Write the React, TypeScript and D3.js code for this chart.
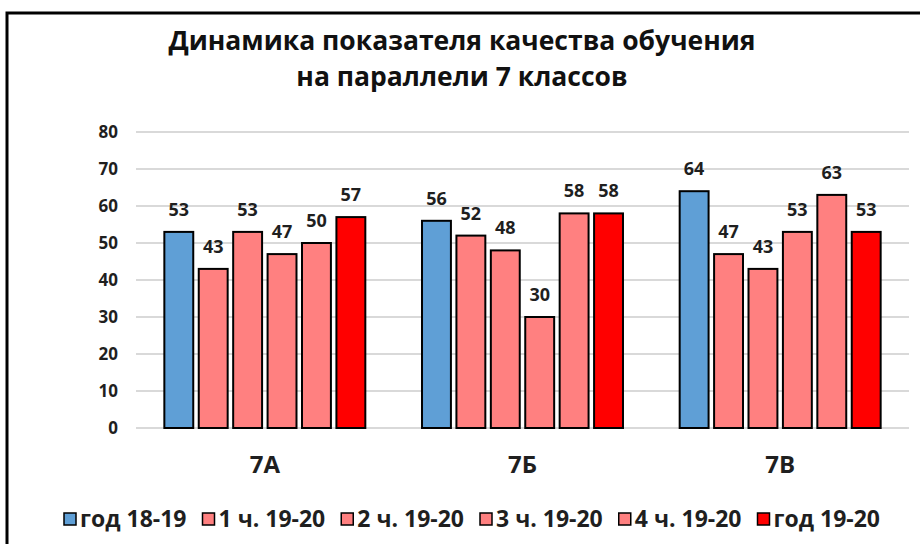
import React, { useEffect, useRef } from 'react';
import * as d3 from 'd3';

const classes = ['7А', '7Б', '7В'];
const seriesNames = ['год 18-19', '1 ч. 19-20', '2 ч. 19-20', '3 ч. 19-20', '4 ч. 19-20', 'год 19-20'];
const seriesColors = ['#5f9fd6', '#ff8080', '#ff8080', '#ff8080', '#ff8080', '#ff0000'];
// values per class, in series order
const values7A = [53, 43, 53, 47, 50, 57];
const values7B = [56, 52, 48, 30, 58, 58];
const values7V = [64, 47, 43, 53, 63, 53];
const yTicks = [0, 10, 20, 30, 40, 50, 60, 70, 80];
const titleLines = ['Динамика показателя качества обучения', 'на параллели 7 классов'];

const FONT = '"Open Sans", "DejaVu Sans", sans-serif';
const TEXT = '#1f1f1f';

const App = () => {
  const legendRef = useRef<SVGGElement>(null);

  const width = 920;
  const height = 544;
  const plot = { left: 136, right: 909, top: 132, bottom: 428 };

  const rows = [values7A, values7B, values7V];

  const x0 = d3.scaleBand<string>()
    .domain(classes)
    .range([plot.left, plot.right])
    .paddingInner(0.22)
    .paddingOuter(0.11);

  const x1 = d3.scaleBand<string>()
    .domain(seriesNames)
    .range([0, x0.bandwidth()])
    .paddingInner(0.16)
    .paddingOuter(0);

  const y = d3.scaleLinear().domain([0, 80]).range([plot.bottom, plot.top]);

  useEffect(() => {
    // lay out the legend centred, using measured text widths
    const g = d3.select(legendRef.current);
    g.selectAll('*').remove();
    const box = 12;
    const boxGap = 4;
    const itemGap = 16;
    const items = g.selectAll('g.item')
      .data(seriesNames)
      .enter()
      .append('g')
      .attr('class', 'item');

    items.append('rect')
      .attr('width', box)
      .attr('height', box)
      .attr('y', -box / 2)
      .attr('fill', (d, i) => seriesColors[i])
      .attr('stroke', '#000')
      .attr('stroke-width', 1.5);

    items.append('text')
      .attr('x', box + boxGap)
      .attr('dy', '0.36em')
      .attr('fill', TEXT)
      .style('font-family', FONT)
      .style('font-weight', 700)
      .style('font-size', '23px')
      .text(d => d);

    const widths: number[] = [];
    items.select('text').each(function () {
      widths.push((this as SVGTextElement).getComputedTextLength() + box + boxGap);
    });
    const total = d3.sum(widths) + itemGap * (widths.length - 1);
    let cx = 472 - total / 2;
    items.attr('transform', (d, i) => {
      const t = `translate(${cx},519)`;
      cx += widths[i] + itemGap;
      return t;
    });
  }, []);

  return (
    <svg
      width={width}
      height={height}
      style={{ position: 'absolute', left: 0, top: 0, background: '#fff' }}
    >
      <rect width={width} height={height} fill="#fff" />
      {/* frame */}
      <path d={`M7,${height} V13 H${width}`} fill="none" stroke="#000" strokeWidth={3} />

      {/* title */}
      {titleLines.map((t, i) => (
        <text
          key={t}
          x={462}
          y={50 + i * 36}
          textAnchor="middle"
          fill="#111"
          style={{ fontFamily: FONT, fontWeight: 700, fontSize: 26.5 }}
        >
          {t}
        </text>
      ))}

      {/* gridlines + y ticks */}
      {yTicks.map(t => (
        <g key={t}>
          <line x1={plot.left} x2={plot.right} y1={y(t)} y2={y(t)} stroke="#d9d9d9" strokeWidth={2} />
          <text
            x={118}
            y={y(t)}
            dy="0.36em"
            textAnchor="end"
            fill={TEXT}
            style={{ fontFamily: FONT, fontWeight: 700, fontSize: 17 }}
          >
            {t}
          </text>
        </g>
      ))}

      {/* bars */}
      {classes.map((c, ci) => (
        <g key={c} transform={`translate(${x0(c)},0)`}>
          {rows[ci].map((v, si) => (
            <g key={si}>
              <rect
                x={x1(seriesNames[si])}
                y={y(v)}
                width={x1.bandwidth()}
                height={y(0) - y(v)}
                fill={seriesColors[si]}
                stroke="#000"
                strokeWidth={2}
              />
              <text
                x={(x1(seriesNames[si]) ?? 0) + x1.bandwidth() / 2}
                y={y(v) - 16}
                textAnchor="middle"
                fill={TEXT}
                style={{ fontFamily: FONT, fontWeight: 700, fontSize: 18 }}
              >
                {v}
              </text>
            </g>
          ))}
          <text
            x={x0.bandwidth() / 2}
            y={473}
            textAnchor="middle"
            fill={TEXT}
            style={{ fontFamily: FONT, fontWeight: 700, fontSize: 24 }}
          >
            {c}
          </text>
        </g>
      ))}

      <g ref={legendRef} />
    </svg>
  );
};

export default App;
